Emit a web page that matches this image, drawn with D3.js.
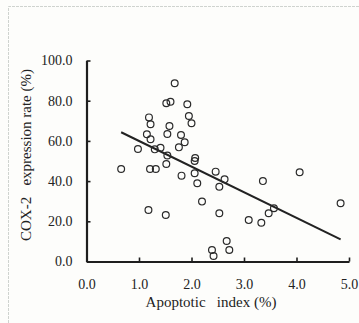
<!DOCTYPE html>
<html><head><meta charset="utf-8">
<script src="https://cdn.jsdelivr.net/npm/d3@7"></script>
<style>
html,body{margin:0;padding:0;background:#fdfdfb;}
svg{display:block;}
svg text{font-family:"Liberation Serif","Times New Roman",serif !important;fill:#222;}
</style></head>
<body>
<svg id="c" width="359" height="323"></svg>
<script>
const apoptoticIndex = [0.66,0.98,1.15,1.19,1.22,1.22,1.21,1.32,1.18,1.30,1.41,1.54,1.58,1.52,1.60,1.68,1.54,1.52,1.51,1.76,1.80,1.87,1.92,1.95,2.00,1.81,2.07,2.06,2.06,2.11,2.20,2.46,2.63,2.53,2.53,2.39,2.42,2.67,2.72,3.09,3.33,3.36,3.47,3.57,4.06,4.84];
const coxExpression = [46.0,56.0,63.3,71.7,68.3,60.8,46.0,46.0,25.6,55.8,56.6,63.4,67.4,78.7,79.5,88.7,52.7,48.5,23.1,56.8,62.9,59.3,78.2,72.4,68.8,42.7,51.5,50.0,43.9,38.9,29.8,44.7,40.9,37.2,24.0,5.7,2.7,10.2,5.7,20.6,19.3,40.0,24.0,26.5,44.4,29.0];
const fitX = [0.66, 4.84];
const fitY = [64.3, 11.0];
const xTicks = [0,1,2,3,4,5];
const yTicks = [0,20,40,60,80,100];
const xTitle = "Apoptotic   index (%)";
const yTitle = "COX-2   expression rate (%)";

const svg = d3.select("#c");
// faint page frame
svg.append("path").attr("d","M8.5,323 V6.5 H359").attr("fill","none")
  .attr("stroke","#cfd3cf").attr("stroke-width",1).attr("stroke-dasharray","3,1");

const x = d3.scaleLinear().domain([0,5]).range([86.5,349]);
const y = d3.scaleLinear().domain([0,100]).range([261.5,60.5]);

const yAxis = svg.append("g").attr("transform","translate(86.5,0)")
  .call(d3.axisLeft(y).tickValues(yTicks).tickFormat(d3.format(".1f")).tickSizeInner(-4).tickSizeOuter(0).tickPadding(14));
const xAxis = svg.append("g").attr("transform","translate(0,261.5)")
  .call(d3.axisBottom(x).tickValues(xTicks).tickFormat(d3.format(".1f")).tickSizeInner(-4).tickSizeOuter(0).tickPadding(18));
[yAxis,xAxis].forEach(g=>{
  g.attr("font-family",null);
  g.select(".domain").attr("stroke","#1e1e1e").attr("stroke-width",2.2);
  g.selectAll(".tick line").attr("stroke","#1e1e1e").attr("stroke-width",1.6);
  g.selectAll(".tick text").attr("font-size",14).attr("fill","#222");
});

// regression line
svg.append("line")
  .attr("x1",x(fitX[0])).attr("y1",y(fitY[0]))
  .attr("x2",x(fitX[1])).attr("y2",y(fitY[1]))
  .attr("stroke","#222").attr("stroke-width",2);

// points
svg.append("g").selectAll("circle").data(apoptoticIndex.map((v,i)=>[v,coxExpression[i]]))
  .join("circle")
  .attr("cx",d=>x(d[0])).attr("cy",d=>y(d[1])).attr("r",3.4)
  .attr("fill","none").attr("stroke","#2a2a2a").attr("stroke-width",1.2);

svg.append("text").attr("x",211).attr("y",307).attr("text-anchor","middle")
  .attr("font-size",15).style("white-space","pre").text(xTitle);
svg.append("text").attr("transform","translate(31,155) rotate(-90)").attr("text-anchor","middle")
  .attr("font-size",15).style("white-space","pre").text(yTitle);
</script>
</body></html>
